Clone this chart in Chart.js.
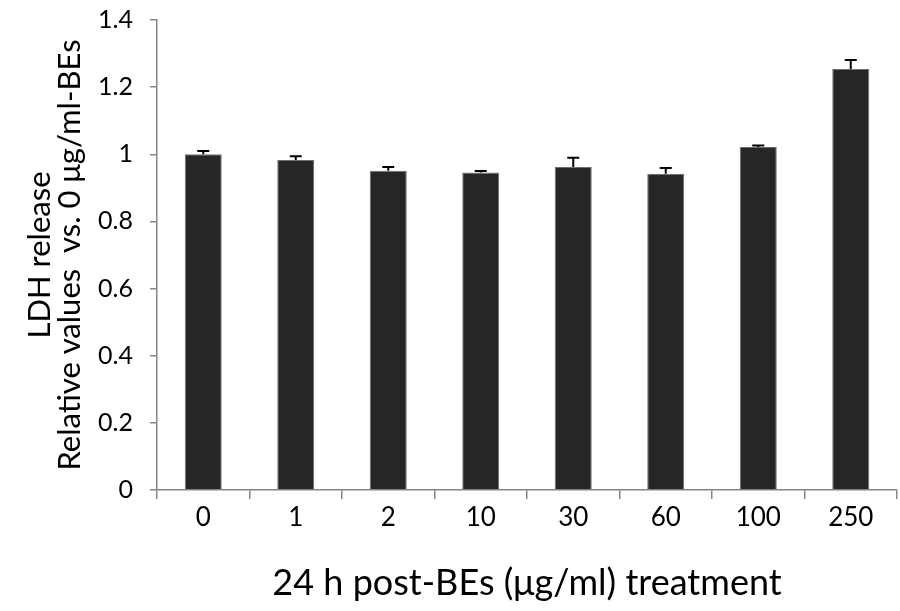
<!DOCTYPE html>
<html>
<head>
<meta charset="utf-8">
<script src="https://cdn.jsdelivr.net/npm/chart.js@4"></script>
<style>
    html, body { margin: 0; padding: 0; background: #fff; }
    #wrap { width: 900px; height: 611px; }
</style>
</head>
<body>
<div id="wrap"><canvas id="chart1" width="900" height="611"></canvas></div>
<script>
// data
const doses = ['0', '1', '2', '10', '30', '60', '100', '250'];
const ldhValues = [1.0, 0.983, 0.951, 0.946, 0.962, 0.942, 1.022, 1.254];
const ldhErrors = [0.01, 0.011, 0.011, 0.004, 0.028, 0.017, 0.004, 0.027];
const yTicks = [0, 0.2, 0.4, 0.6, 0.8, 1, 1.2, 1.4];

const axisGrey = '#868686';
const fontFamily = "Lato, 'Open Sans', sans-serif";

// draws the upper error bar from each bar top
const errorBars = {
    id: 'errorBars',
    afterDatasetsDraw(chart) {
        const ctx = chart.ctx;
        const meta = chart.getDatasetMeta(0);
        const yScale = chart.scales.y;
        ctx.save();
        ctx.strokeStyle = '#000';
        ctx.lineWidth = 2;
        meta.data.forEach((bar, i) => {
            const top = yScale.getPixelForValue(ldhValues[i] + ldhErrors[i]);
            const base = yScale.getPixelForValue(ldhValues[i]);
            ctx.beginPath();
            ctx.moveTo(bar.x, base);
            ctx.lineTo(bar.x, top);
            ctx.moveTo(bar.x - 6, top);
            ctx.lineTo(bar.x + 6, top);
            ctx.stroke();
        });
        ctx.restore();
    }
};

new Chart(document.getElementById('chart1'), {
    type: 'bar',
    data: {
        labels: doses,
        datasets: [{
            data: ldhValues,
            backgroundColor: '#262626',
            borderColor: '#6e6e6e',
            borderWidth: 1,
            categoryPercentage: 1,
            barPercentage: 0.4,
        }]
    },
    options: {
        responsive: false,
        animation: false,
        layout: {
            padding: { top: 20, right: 3, left: 10, bottom: 6 }
        },
        plugins: {
            legend: { display: false },
            tooltip: { enabled: false },
        },
        scales: {
            y: {
                min: 0,
                max: 1.4,
                afterBuildTicks: (scale) => {
                    scale.ticks = yTicks.map((v) => ({ value: v }));
                },
                afterFit: (scale) => {
                    scale.width = 147;
                    scale.paddingTop = 0;
                    scale.paddingBottom = 0;
                },
                ticks: {
                    color: '#000',
                    padding: 17,
                    font: { family: fontFamily, size: 25 },
                    callback: (v) => String(v),
                },
                grid: {
                    drawOnChartArea: false,
                    drawTicks: true,
                    tickLength: 7,
                    color: axisGrey,
                    lineWidth: 1.5,
                },
                border: { color: axisGrey, width: 1.5 },
                title: {
                    display: true,
                    text: ['LDH release', 'Relative values  vs. 0 \u03bcg/ml-BEs'],
                    color: '#000',
                    font: { family: fontFamily, size: 31, lineHeight: 0.97 },
                    padding: { top: 15, bottom: 0 },
                },
            },
            x: {
                afterFit: (scale) => { scale.height = 115; },
                ticks: {
                    color: '#000',
                    padding: 3,
                    font: { family: fontFamily, size: 26 },
                },
                grid: {
                    drawOnChartArea: false,
                    drawTicks: true,
                    tickLength: 9,
                    offset: true,
                    color: axisGrey,
                    lineWidth: 1.5,
                },
                border: { color: axisGrey, width: 1.5 },
                title: {
                    display: true,
                    text: '24 h post-BEs (\u03bcg/ml) treatment',
                    color: '#000',
                    font: { family: fontFamily, size: 36 },
                    padding: { top: 4, bottom: 0 },
                },
            },
        },
    },
    plugins: [errorBars],
});
</script>
</body>
</html>
